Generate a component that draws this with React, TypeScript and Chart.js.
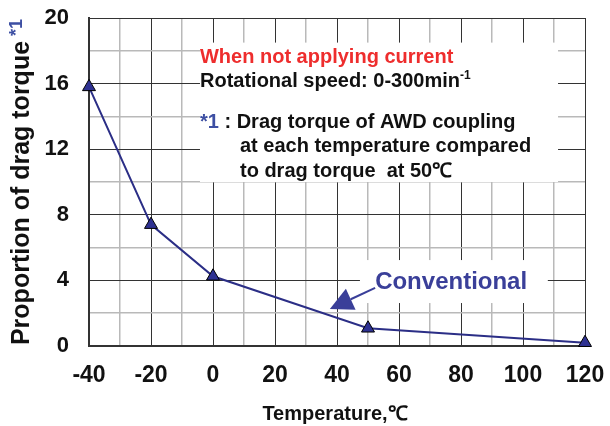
import React, { useEffect, useRef } from 'react';
import { Chart, registerables } from 'chart.js';

Chart.register(...registerables);

// ---- data ----
const temperatures = [-40, -20, 0, 50, 120];
const dragTorqueRatio = [15.8, 7.4, 4.25, 1.08, 0.2];
const xTickValues = [-40, -20, 0, 20, 40, 60, 80, 100, 120];
const yTickValues = [0, 4, 8, 12, 16, 20];
const seriesName = 'Conventional';
const xTitle = 'Temperature,℃';
const yTitle = 'Proportion of drag torque';
const yTitleMark = '*1';

// ---- styles ----
const FONT = '"Liberation Sans", Arial, Helvetica, sans-serif';
const LINE_COLOR = '#2b2e86';
const MARKER_FILL = '#2e3192';
const RED = '#ee2d2d';
const BLUE = '#3d4fa3';
const NAVY = '#3a3f99';
const MAJOR_GRID = '#333333';
const MINOR_GRID = '#b9b9b9';

// annotation layout (data units)
const whitePanels = [
  { x0: -4.2, x1: 111.3, y0: 18.5, y1: 10.0 },
  { x0: 47.4, x1: 108, y0: 5.24, y1: 2.62 },
];
const noteLines = [
  { x: -4.2, y: 17.26, runs: [{ t: 'When not applying current', c: RED }] },
  { x: -4.2, y: 15.8, runs: [{ t: 'Rotational speed: 0-300min', c: '#111' }, { t: '-1', c: '#111', sup: true }] },
  { x: -4.2, y: 13.3, runs: [{ t: '*1', c: BLUE }, { t: ' : Drag torque of AWD coupling', c: '#111' }] },
  { x: 8.7, y: 11.83, runs: [{ t: 'at each temperature compared', c: '#111' }] },
  { x: 8.7, y: 10.3, runs: [{ t: 'to drag torque  at 50℃', c: '#111' }] },
];
const seriesLabel = { x: 52.3, y: 3.48 };
const arrow = { fromX: 52.3, fromY: 3.54, toX: 37.7, toY: 2.26 };

const annotatePlugin = {
  id: 'annotate',
  beforeDatasetsDraw(chart: any) {
    const { ctx, scales } = chart;
    const x = scales.x, y = scales.y;
    ctx.save();
    ctx.fillStyle = '#ffffff';
    for (const p of whitePanels) {
      const l = x.getPixelForValue(p.x0), r = x.getPixelForValue(p.x1);
      const t = y.getPixelForValue(p.y0), b = y.getPixelForValue(p.y1);
      ctx.fillRect(l, t, r - l, b - t);
    }
    ctx.restore();
  },
  afterDatasetsDraw(chart: any) {
    const { ctx, scales } = chart;
    const x = scales.x, y = scales.y;
    ctx.save();
    ctx.textBaseline = 'alphabetic';
    ctx.textAlign = 'left';
    for (const line of noteLines) {
      let px = x.getPixelForValue(line.x);
      const py = y.getPixelForValue(line.y);
      for (const run of line.runs as any[]) {
        ctx.font = run.sup ? `bold 12px ${FONT}` : `bold 20px ${FONT}`;
        ctx.fillStyle = run.c;
        ctx.fillText(run.t, px, run.sup ? py - 8 : py);
        px += ctx.measureText(run.t).width;
      }
    }
    // series label
    ctx.font = `bold 24px ${FONT}`;
    ctx.fillStyle = NAVY;
    ctx.fillText(seriesName, x.getPixelForValue(seriesLabel.x), y.getPixelForValue(seriesLabel.y));
    // arrow
    const fx = x.getPixelForValue(arrow.fromX), fy = y.getPixelForValue(arrow.fromY);
    const tx = x.getPixelForValue(arrow.toX), ty = y.getPixelForValue(arrow.toY);
    const dx = tx - fx, dy = ty - fy;
    const len = Math.hypot(dx, dy);
    const ux = dx / len, uy = dy / len;
    const headLen = 23, headHalf = 11.5;
    const bx = tx - ux * headLen, by = ty - uy * headLen;
    ctx.strokeStyle = NAVY;
    ctx.lineWidth = 2;
    ctx.beginPath();
    ctx.moveTo(fx, fy);
    ctx.lineTo(bx, by);
    ctx.stroke();
    ctx.fillStyle = NAVY;
    ctx.beginPath();
    ctx.moveTo(tx, ty);
    ctx.lineTo(bx - uy * headHalf, by + ux * headHalf);
    ctx.lineTo(bx + uy * headHalf, by - ux * headHalf);
    ctx.closePath();
    ctx.fill();
    ctx.restore();
  },
  afterDraw(chart: any) {
    const { ctx, chartArea } = chart;
    ctx.save();
    // x title
    ctx.font = `bold 20px ${FONT}`;
    ctx.fillStyle = '#111';
    ctx.textAlign = 'center';
    ctx.textBaseline = 'alphabetic';
    ctx.fillText(xTitle, (chartArea.left + chartArea.right) / 2 - 2, chartArea.bottom + 74);
    // y title
    const cy = (chartArea.top + chartArea.bottom) / 2 + 11;
    ctx.translate(chartArea.left - 60, cy);
    ctx.rotate(-Math.PI / 2);
    ctx.font = `bold 25px ${FONT}`;
    const w = ctx.measureText(yTitle).width;
    ctx.fillText(yTitle, 0, 0);
    ctx.font = `bold 18px ${FONT}`;
    ctx.fillStyle = BLUE;
    ctx.textAlign = 'left';
    ctx.fillText(yTitleMark, w / 2 + 5, -7);
    ctx.restore();
  },
};

export default function App() {
  const ref = useRef<HTMLCanvasElement | null>(null);
  useEffect(() => {
    document.body.style.margin = '0';
    const canvas = ref.current!;
    const points = temperatures.map((t, i) => ({ x: t, y: dragTorqueRatio[i] }));
    const chart = new Chart(canvas, {
      type: 'line',
      data: {
        datasets: [
          {
            label: seriesName,
            data: points,
            borderColor: LINE_COLOR,
            borderWidth: 2,
            pointStyle: 'triangle',
            pointRadius: 7.5,
            pointBackgroundColor: MARKER_FILL,
            pointBorderColor: '#000',
            pointBorderWidth: 1,
            tension: 0,
            fill: false,
            clip: false,
          },
        ],
      },
      options: {
        animation: false,
        responsive: false,
        events: [],
        layout: { padding: { top: 18, right: 25, left: 0, bottom: 0 } },
        plugins: { legend: { display: false }, tooltip: { enabled: false } },
        scales: {
          x: {
            type: 'linear',
            min: xTickValues[0],
            max: xTickValues[xTickValues.length - 1],
            afterFit: (s: any) => {
              s.height = 80;
              s.paddingLeft = 0;
              s.paddingRight = 0;
            },
            ticks: {
              stepSize: 10,
              autoSkip: false,
              maxRotation: 0,
              padding: 16,
              color: '#111',
              font: { family: FONT, size: 23, weight: 'bold' },
              callback: (v: any) => (xTickValues.includes(Number(v)) ? String(v) : ''),
            },
            grid: {
              drawTicks: false,
              color: (c: any) => (xTickValues.includes(c.tick?.value) ? MAJOR_GRID : MINOR_GRID),
              lineWidth: (c: any) => (xTickValues.includes(c.tick?.value) ? 1 : 1.5),
            },
            border: { color: MAJOR_GRID, width: 2 },
          },
          y: {
            type: 'linear',
            min: yTickValues[0],
            max: yTickValues[yTickValues.length - 1],
            afterFit: (s: any) => {
              s.width = 89;
              s.paddingTop = 0;
              s.paddingBottom = 0;
            },
            ticks: {
              stepSize: 2,
              autoSkip: false,
              padding: 20,
              color: '#111',
              font: { family: FONT, size: 22, weight: 'bold' },
              callback: (v: any) => (yTickValues.includes(Number(v)) ? String(v) : ''),
            },
            grid: {
              drawTicks: false,
              color: (c: any) => (yTickValues.includes(c.tick?.value) ? MAJOR_GRID : MINOR_GRID),
              lineWidth: (c: any) => (yTickValues.includes(c.tick?.value) ? 1 : 1.5),
            },
            border: { color: MAJOR_GRID, width: 2 },
          },
        },
      },
      plugins: [annotatePlugin],
    } as any);
    return () => chart.destroy();
  }, []);
  return <canvas ref={ref} width={610} height={426} style={{ display: 'block' }} />;
}
